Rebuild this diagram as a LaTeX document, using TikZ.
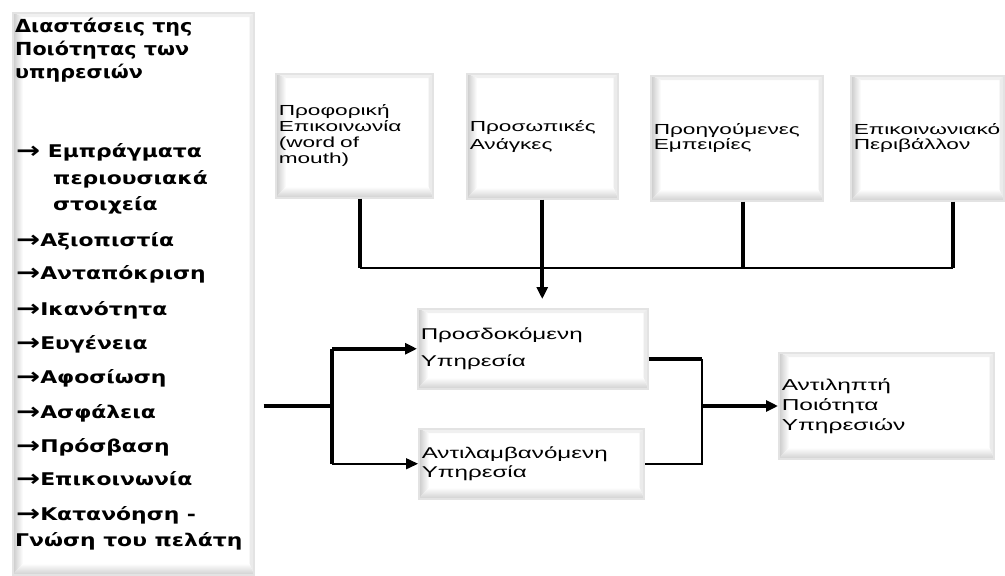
\documentclass[tikz,border=0pt]{standalone}
\usepackage{fontspec}
\setmainfont{Liberation Sans}
\newfontfamily\cardfont[FakeStretch=1.55]{Liberation Sans}
\newfontfamily\listfont[FakeStretch=1.25]{DejaVu Sans}
\newfontfamily\headfont[FakeStretch=1.15]{DejaVu Sans}
\usetikzlibrary{positioning,arrows.meta,backgrounds}

\tikzset{
  card/.style={draw=gray!22, line width=1.5pt, anchor=north west,
    inner xsep=3pt, inner ysep=0pt, align=left},
  listitem/.style={anchor=base west, inner sep=0pt,
    font=\listfont\bfseries\fontsize{17.5}{20}\selectfont},
  headline/.style={anchor=base west, inner sep=0pt,
    font=\headfont\bfseries\fontsize{18}{20}\selectfont},
  thinline/.style={line width=1.5pt},
  thickline/.style={line width=4pt},
  tip/.style={-{Triangle[length=12pt,width=11pt]}},
}

\newcommand{\arr}{\raisebox{-1.5pt}{\fontsize{23}{23}\selectfont →}}

% shaded bevel round a named box
\newcommand{\drawbevel}[1]{%
  \fill[gray!12] (#1.north west) -- (#1.north east)
    -- ([shift={(-5pt,-5pt)}]#1.north east) -- ([shift={(11pt,-5pt)}]#1.north west) -- cycle;
  \fill[gray!16] (#1.north east) -- (#1.south east)
    -- ([shift={(-5pt,12pt)}]#1.south east) -- ([shift={(-5pt,-5pt)}]#1.north east) -- cycle;
  \shade[left color=gray!45, right color=white] (#1.north west) -- (#1.south west)
    -- ([shift={(11pt,12pt)}]#1.south west) -- ([shift={(11pt,-5pt)}]#1.north west) -- cycle;
  \shade[top color=white, bottom color=gray!40] (#1.south west) -- (#1.south east)
    -- ([shift={(-5pt,12pt)}]#1.south east) -- ([shift={(11pt,12pt)}]#1.south west) -- cycle;
}

\begin{document}
\begin{tikzpicture}[x=1pt,y=-1pt]
  \useasboundingbox (0,0) rectangle (1005,576);

  % left panel
  \node[card, minimum width=241pt, minimum height=562pt] (dims) at (12,12) {};
  \node[headline] (head1) at (15,32) {Διαστάσεις της};
  \node[headline] (head2) at (15,55) {Ποιότητας των};
  \node[headline] (head3) at (15,78) {υπηρεσιών};
  \foreach \x/\y/\t [count=\i] in {
      16/157/{\arr\ Εμπράγματα}, 53/184/περιουσιακά, 53/210/στοιχεία,
      16/246/\arr Αξιοπιστία, 16/279/\arr Ανταπόκριση, 16/315/\arr Ικανότητα,
      16/349/\arr Ευγένεια, 16/383/\arr Αφοσίωση, 16/418/\arr Ασφάλεια,
      16/452/\arr Πρόσβαση, 16/485/\arr Επικοινωνία, 16/520/{\arr Κατανόηση -},
      15/546/{Γνώση του πελάτη}}
    \node[listitem] (item\i) at (\x,\y) {\t};

  % factors
  \node[card, minimum width=157pt, minimum height=124pt, text width=151pt,
    font=\cardfont\fontsize{14.6}{16}\selectfont] (oral) at (275,73)
    {Προφορική\\Επικοινωνία\\(word of\\mouth)};
  \node[card, minimum width=151pt, minimum height=125pt, text width=145pt,
    font=\cardfont\fontsize{14.6}{18}\selectfont] (needs) at (466,73)
    {Προσωπικές\\Ανάγκες};
  \node[card, minimum width=172pt, minimum height=125pt, text width=166pt,
    font=\cardfont\fontsize{14.6}{14}\selectfont] (past) at (650,75)
    {Προηγούμενες\\Εμπειρίες};
  \node[card, minimum width=153pt, minimum height=125pt, text width=147pt,
    font=\cardfont\fontsize{14.6}{15}\selectfont] (env) at (850,75)
    {Επικοινωνιακό\\Περιβάλλον};

  % services
  \node[card, minimum width=230pt, minimum height=80pt, text width=224pt,
    font=\cardfont\fontsize{15.6}{27}\selectfont] (expected) at (417,308)
    {Προσδοκόμενη\\Υπηρεσία};
  \node[card, minimum width=225pt, minimum height=70pt, text width=219pt,
    font=\cardfont\fontsize{15.6}{19}\selectfont] (perceived) at (418,428)
    {Αντιλαμβανόμενη\\Υπηρεσία};
  \node[card, minimum width=215pt, minimum height=106pt, text width=209pt,
    font=\cardfont\fontsize{15.8}{20}\selectfont] (quality) at (778,352)
    {Αντιληπτή\\Ποιότητα\\Υπηρεσιών};

  \begin{scope}[on background layer]
    \fill[white] (0,0) rectangle (1005,576);
    \foreach \b in {dims,oral,needs,past,env,expected,perceived,quality}
      \drawbevel{\b};
  \end{scope}

  % bus from the factors
  \coordinate (bus1) at (360,268);
  \coordinate (bus3) at (743,268);
  \coordinate (bus4) at (953,268);
  \draw[thickline] (oral.south -| bus1) -- (bus1);
  \draw[thickline] (past.south -| bus3) -- (bus3);
  \draw[thickline] (env.south -| bus4) -- (bus4);
  \draw[thinline] (bus1) -- (bus4);
  \draw[thickline, tip, shorten >=9pt] (needs.south) -- (needs.south |- expected.north);

  % split into the two services
  \coordinate (split) at (332,406);
  \draw[thickline, shorten <=9pt] (dims.east |- split) -- (split);
  \draw[thickline] (split) -- (split |- expected.west);
  \draw[thickline] (split) -- (split |- perceived.west);
  \draw[thickline, tip] (split |- expected.west) -- (expected.west);
  \draw[thinline, tip] (split |- perceived.west) -- (perceived.west);

  % join into perceived quality
  \coordinate (join) at (702,406);
  \coordinate (joinup) at (702,359);
  \draw[thickline] (expected.east |- joinup) -- (joinup);
  \draw[thinline] (joinup) -- (joinup |- perceived.east) -- (perceived.east);
  \draw[thickline, tip] (join) -- (quality.west |- join);
\end{tikzpicture}
\end{document}
